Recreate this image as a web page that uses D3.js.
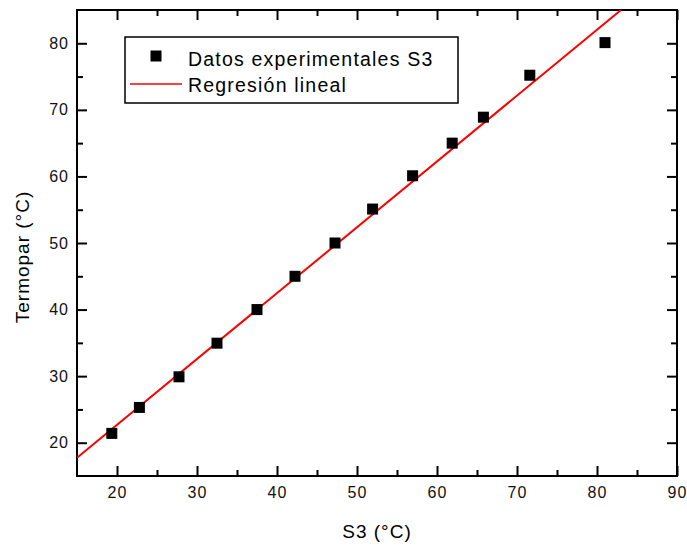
<!DOCTYPE html>
<html>
<head>
<meta charset="utf-8">
<script src="https://cdn.jsdelivr.net/npm/d3@7"></script>
<style>
  body { margin: 0; background: #fff; }
  svg { display: block; font-family: Arial, 'Liberation Sans', sans-serif; }
</style>
</head>
<body>
<svg id="chart"></svg>
<script>
// Datos experimentales S3
const s3Temp = [19.35, 22.8, 27.75, 32.5, 37.5, 42.25, 47.25, 51.95, 56.95, 61.9, 65.8, 71.6, 81.0]
const termoparTemp = [21.4, 25.3, 29.9, 34.95, 40.0, 45.0, 50.0, 55.1, 60.1, 65.0, 68.9, 75.2, 80.1]

// Regresión lineal (end points of the fitted line)
const regX = [15, 83.0]
const regY = [17.75, 85.0]

const xMajor = [20, 30, 40, 50, 60, 70, 80, 90]
const xMinor = [25, 35, 45, 55, 65, 75, 85]
const yMajor = [20, 30, 40, 50, 60, 70, 80]
const yMinor = [25, 35, 45, 55, 65, 75]

const legendLabels = ['Datos experimentales S3', 'Regresión lineal']

const width = 687
const height = 547
const margin = {top: 10, right: 10, bottom: 71, left: 77}

const svg = d3.select('#chart')
  .attr('width', width)
  .attr('height', height)

const x = d3.scaleLinear().domain([15, 90]).range([margin.left, width - margin.right])
const y = d3.scaleLinear().domain([15, 85]).range([height - margin.bottom, margin.top])

const x0 = x.range()[0], x1 = x.range()[1]
const y0 = y.range()[0], y1 = y.range()[1]

// clip for the data
svg.append('clipPath').attr('id', 'plot-clip')
  .append('rect')
  .attr('x', x0).attr('y', y1)
  .attr('width', x1 - x0).attr('height', y0 - y1)

function styleAxis(g) {
  g.select('.domain').remove()
  g.selectAll('line').attr('stroke', '#000').attr('stroke-width', 2)
  g.selectAll('text')
    .attr('font-size', 16)
    .attr('fill', '#111')
    .style('letter-spacing', '1px')
}

// bottom
svg.append('g').attr('transform', `translate(0,${y0})`)
  .call(d3.axisBottom(x).tickValues(xMajor).tickSize(-10).tickPadding(11).tickFormat(d3.format('d')))
  .call(styleAxis)
svg.append('g').attr('transform', `translate(0,${y0})`)
  .call(d3.axisBottom(x).tickValues(xMinor).tickSize(-6).tickFormat(''))
  .call(styleAxis)
// top
svg.append('g').attr('transform', `translate(0,${y1})`)
  .call(d3.axisTop(x).tickValues(xMajor).tickSize(-10).tickFormat(''))
  .call(styleAxis)
svg.append('g').attr('transform', `translate(0,${y1})`)
  .call(d3.axisTop(x).tickValues(xMinor).tickSize(-6).tickFormat(''))
  .call(styleAxis)
// left
svg.append('g').attr('transform', `translate(${x0},0)`)
  .call(d3.axisLeft(y).tickValues(yMajor).tickSize(-10).tickPadding(8).tickFormat(d3.format('d')))
  .call(styleAxis)
svg.append('g').attr('transform', `translate(${x0},0)`)
  .call(d3.axisLeft(y).tickValues(yMinor).tickSize(-6).tickFormat(''))
  .call(styleAxis)
// right
svg.append('g').attr('transform', `translate(${x1},0)`)
  .call(d3.axisRight(y).tickValues(yMajor).tickSize(-10).tickFormat(''))
  .call(styleAxis)
svg.append('g').attr('transform', `translate(${x1},0)`)
  .call(d3.axisRight(y).tickValues(yMinor).tickSize(-6).tickFormat(''))
  .call(styleAxis)

// frame
svg.append('rect')
  .attr('x', x0).attr('y', y1)
  .attr('width', x1 - x0).attr('height', y0 - y1)
  .attr('fill', 'none')
  .attr('stroke', '#000')
  .attr('stroke-width', 2)

// axis titles
svg.append('text')
  .attr('x', (x0 + x1) / 2)
  .attr('y', 538)
  .attr('text-anchor', 'middle')
  .attr('font-size', 19)
  .style('letter-spacing', '1px')
  .text('S3 (°C)')

svg.append('text')
  .attr('transform', 'translate(29,257) rotate(-90)')
  .attr('text-anchor', 'middle')
  .attr('font-size', 19)
  .style('letter-spacing', '1px')
  .text('Termopar (°C)')

// regression line
const regLine = d3.line().x(d => x(d[0])).y(d => y(d[1]))
svg.append('path')
  .datum(regX.map((v, i) => [v, regY[i]]))
  .attr('clip-path', 'url(#plot-clip)')
  .attr('d', regLine)
  .attr('fill', 'none')
  .attr('stroke', '#ff0000')
  .attr('stroke-width', 2)

// data points
const ms = 11
svg.append('g')
  .selectAll('rect')
  .data(s3Temp.map((v, i) => [v, termoparTemp[i]]))
  .join('rect')
    .attr('x', d => x(d[0]) - ms / 2)
    .attr('y', d => y(d[1]) - ms / 2)
    .attr('width', ms)
    .attr('height', ms)
    .attr('fill', '#000')

// legend
const legend = svg.append('g')
legend.append('rect')
  .attr('x', 125).attr('y', 37)
  .attr('width', 333).attr('height', 66)
  .attr('fill', '#fff')
  .attr('stroke', '#000')
  .attr('stroke-width', 1.5)
legend.append('rect')
  .attr('x', 156 - ms / 2).attr('y', 56 - ms / 2)
  .attr('width', ms).attr('height', ms)
  .attr('fill', '#000')
legend.append('line')
  .attr('x1', 130).attr('x2', 182)
  .attr('y1', 84).attr('y2', 84)
  .attr('stroke', '#ff0000')
  .attr('stroke-width', 1.5)
legend.selectAll('text.lbl')
  .data(legendLabels)
  .join('text')
    .attr('class', 'lbl')
    .attr('x', 188)
    .attr('y', (d, i) => 66 + i * 26)
    .attr('font-size', 19.5)
    .style('letter-spacing', '1.2px')
    .text(d => d)
</script>
</body>
</html>
